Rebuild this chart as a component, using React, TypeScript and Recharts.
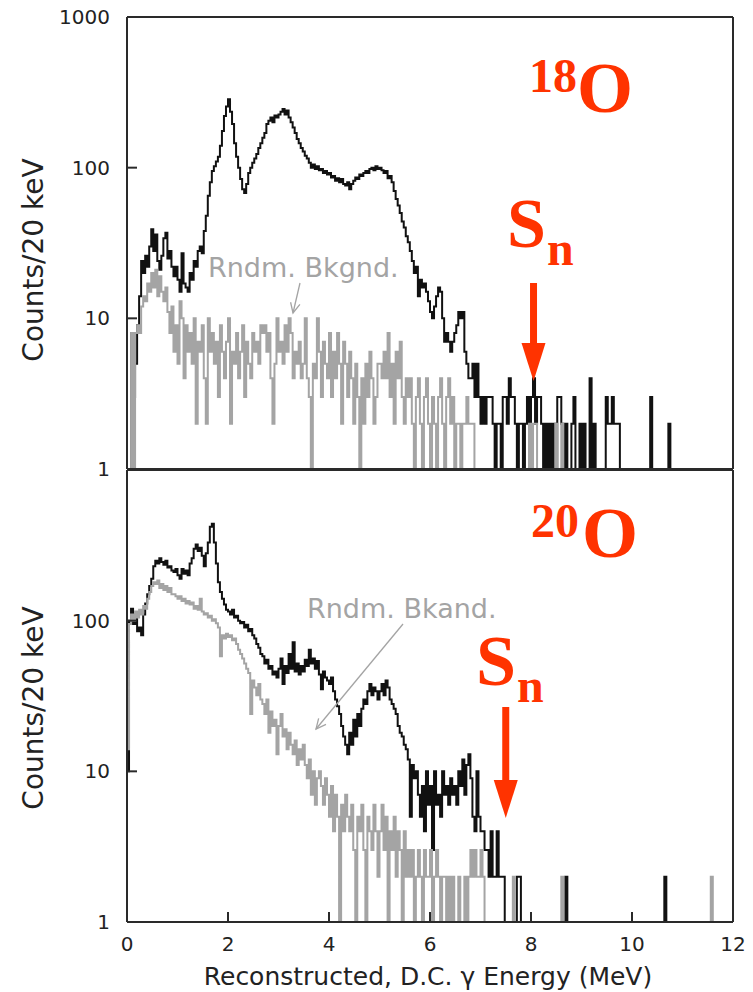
import { LineChart, Line, XAxis, YAxis } from "recharts"

// gamma spectra, counts per plotted bin (0.04 MeV wide)
const ENERGY_BIN = 0.04
const X_TICKS = [0, 2, 4, 6, 8, 10, 12]

// 18O, top panel, from 0 MeV upward
const O18_SIGNAL = [
  0, 0, 8, 3, 5, 9, 14, 24, 20, 26, 22, 30, 39, 28, 36, 24, 21, 26, 34, 37, 25, 28, 22, 19, 22,
  18, 15, 27, 17, 16, 15, 20, 18, 24, 22, 28, 30, 27, 38, 48, 65, 80, 95, 102, 110, 118, 140, 175, 220, 255,
  285, 235, 195, 145, 118, 100, 84, 72, 68, 78, 92, 100, 108, 115, 123, 135, 145, 158, 170, 195, 205, 215, 200, 222, 215,
  225, 235, 245, 225, 240, 215, 200, 185, 170, 155, 145, 135, 128, 120, 115, 108, 100, 105, 98, 102, 96, 98, 92, 95, 90,
  92, 86, 88, 82, 85, 80, 84, 78, 76, 80, 72, 78, 82, 86, 84, 90, 88, 92, 95, 92, 98, 100, 96, 102, 98,
  100, 96, 92, 95, 85, 88, 80, 70, 62, 56, 50, 44, 40, 35, 32, 28, 24, 20, 22, 14, 18, 16, 17, 15, 13,
  11, 10, 12, 14, 16, 15, 10, 7, 8, 7, 6, 7, 8, 9, 11, 10, 11, 6, 5, 4, 4, 5, 3, 5, 3,
  2, 3, 2, 3, 3, 3, 2, 0, 2, 2, 0, 3, 3, 2, 4, 3, 3, 2, 0, 2, 2, 0, 2, 3, 2,
  3, 4, 2, 3, 3, 2, 0, 2, 0, 2, 0, 2, 0, 3, 3, 2, 0, 2, 0, 0, 2, 3, 0, 0, 2,
  0, 2, 0, 0, 4, 0, 2, 0, 0, 0, 0, 0, 3, 2, 2, 3, 2, 2, 2, 0,
]
const O18_SIGNAL_TAIL = [[10.36, 3], [10.72, 2]]

const O18_RANDOM = [
  0, 0, 8, 0, 8, 9, 8, 12, 14, 13, 17, 15, 20, 16, 21, 14, 19, 15, 13, 16, 11, 8, 12, 6, 9,
  5, 13, 10, 4, 9, 6, 8, 5, 10, 2, 7, 6, 9, 4, 2, 10, 6, 8, 5, 7, 3, 9, 6, 4, 7,
  10, 2, 6, 5, 8, 4, 6, 9, 3, 7, 5, 4, 8, 6, 7, 5, 9, 8, 9, 6, 8, 4, 2, 5, 10,
  6, 7, 5, 9, 6, 10, 8, 4, 6, 5, 7, 4, 5, 10, 4, 3, 0, 5, 4, 10, 6, 3, 7, 5, 4,
  8, 3, 6, 4, 8, 5, 2, 7, 5, 3, 6, 4, 2, 5, 3, 0, 4, 2, 5, 3, 6, 4, 2, 3, 5,
  5, 4, 6, 4, 8, 3, 5, 2, 6, 4, 7, 3, 2, 4, 3, 4, 2, 0, 3, 4, 2, 0, 3, 4, 2,
  0, 3, 2, 0, 3, 4, 2, 0, 3, 4, 2, 3, 0, 2, 2, 0, 2, 2, 3, 2, 2, 2, 0, 0, 0,
]
const O18_RANDOM_TAIL = [[7.96, 2], [8.04, 2], [8.08, 2], [8.48, 2], [8.6, 2]]

// 20O, bottom panel
const O20_SIGNAL = [
  10, 100, 120, 95, 110, 85, 90, 80, 110, 130, 150, 170, 190, 230, 250, 240, 260, 245, 235, 250, 225, 230, 215, 210, 220,
  200, 190, 220, 205, 215, 200, 240, 260, 300, 320, 290, 305, 270, 230, 280, 330, 420, 440, 330, 240, 180, 155, 140, 128, 118,
  115, 110, 118, 105, 108, 100, 96, 98, 90, 94, 85, 88, 80, 76, 70, 66, 60, 58, 52, 55, 48, 50, 44, 46, 42,
  48, 56, 38, 50, 45, 60, 48, 72, 46, 52, 44, 50, 46, 55, 50, 64, 52, 56, 48, 54, 44, 35, 46, 42, 40,
  38, 42, 34, 30, 27, 24, 20, 17, 15, 13, 18, 15, 22, 17, 24, 20, 26, 30, 28, 34, 38, 32, 36, 34, 30,
  34, 38, 32, 40, 36, 30, 28, 26, 24, 20, 18, 17, 15, 14, 12, 5, 11, 9, 10, 7, 5, 8, 4, 10, 6,
  8, 3, 10, 6, 7, 5, 10, 7, 8, 6, 9, 7, 8, 6, 10, 8, 12, 7, 11, 13, 9, 5, 4, 10, 5,
  4, 4, 3, 3, 2, 4, 2, 2, 4, 2, 2, 2,
]
const O20_SIGNAL_TAIL = [[7.72, 2], [7.76, 2], [8.68, 2], [10.64, 2]]

const O20_RANDOM = [
  14, 95, 110, 100, 115, 105, 118, 110, 125, 120, 140, 155, 170, 180, 175, 185, 165, 175, 160, 170, 155, 165, 150, 150, 145,
  140, 145, 135, 140, 130, 135, 128, 132, 120, 125, 118, 140, 115, 110, 112, 105, 108, 100, 102, 96, 90, 58, 80, 76, 82,
  78, 80, 74, 76, 70, 64, 60, 56, 52, 48, 45, 24, 40, 36, 32, 38, 30, 28, 24, 30, 18, 25, 20, 22, 13,
  20, 24, 17, 19, 14, 18, 15, 13, 16, 11, 14, 12, 15, 11, 9, 12, 7, 10, 6, 9, 10, 8, 6, 9, 7,
  5, 8, 4, 7, 5, 0, 6, 4, 7, 5, 4, 6, 3, 0, 5, 4, 6, 3, 0, 5, 4, 3, 6, 4, 2,
  4, 6, 3, 5, 0, 4, 3, 5, 2, 4, 3, 0, 4, 2, 3, 2, 3, 0, 2, 3, 2, 0, 3, 2, 2,
  3, 0, 2, 3, 2, 0, 2, 2, 0, 2, 0, 2, 0, 0, 2, 0, 0, 2, 0, 2, 3, 2, 3, 2, 2,
  3, 2, 0,
]
const O20_RANDOM_TAIL = [[7.64, 2], [8.6, 2], [11.56, 2]]

// empty bins can't sit on a log axis; push them below the frame so the clip hides them
const FLOOR = 0.5

function buildRows(signal: number[], random: number[], signalTail: number[][], randomTail: number[][]) {
  const n = Math.round(12 / ENERGY_BIN)
  const rows = []
  for (let i = 0; i <= n; i++) {
    rows.push({ x: Math.round(i * ENERGY_BIN * 100) / 100, sig: signal[i] ?? 0, rnd: random[i] ?? 0 })
  }
  signalTail.forEach(([e, c]) => (rows[Math.round(e / ENERGY_BIN)].sig = c))
  randomTail.forEach(([e, c]) => (rows[Math.round(e / ENERGY_BIN)].rnd = c))
  return rows.map((r) => ({ x: r.x, sig: r.sig > 0 ? r.sig : FLOOR, rnd: r.rnd > 0 ? r.rnd : FLOOR }))
}

const topRows = buildRows(O18_SIGNAL, O18_RANDOM, O18_SIGNAL_TAIL, O18_RANDOM_TAIL)
const bottomRows = buildRows(O20_SIGNAL, O20_RANDOM, O20_SIGNAL_TAIL, O20_RANDOM_TAIL)

const W = 753
const PLOT_LEFT = 127
const PLOT_RIGHT = 733
const AXIS_BAND = 10 // room reserved for each axis, kept inside the margins below
const FRAME = "#2a2a2a"
const BLACK = "#111111"
const GRAY = "#a4a4a4"
const RED = "#ff3300"
const TICK_FONT = { fill: "#222", fontSize: 20, fontFamily: "DejaVu Sans" }

const px = (mev: number) => PLOT_LEFT + (mev / 12) * (PLOT_RIGHT - PLOT_LEFT)

interface PanelProps {
  rows: { x: number; sig: number; rnd: number }[]
  yTicks: number[]
  showXLabels: boolean
  height: number
  plotTop: number
  plotBottom: number
}

function Panel({ rows, yTicks, showXLabels, height, plotTop, plotBottom }: PanelProps) {
  const line = { stroke: FRAME, strokeWidth: 2 }
  const margin = {
    top: plotTop - AXIS_BAND,
    bottom: height - plotBottom - AXIS_BAND,
    left: PLOT_LEFT - AXIS_BAND,
    right: W - PLOT_RIGHT - AXIS_BAND,
  }
  return (
    <LineChart width={W} height={height} data={rows} margin={margin}>
      <XAxis
        dataKey="x"
        type="number"
        domain={[0, 12]}
        ticks={X_TICKS}
        interval={0}
        allowDataOverflow
        height={AXIS_BAND}
        tickSize={-10}
        tickMargin={25}
        tick={showXLabels ? TICK_FONT : false}
        axisLine={line}
        tickLine={line}
      />
      <XAxis
        xAxisId="top"
        orientation="top"
        dataKey="x"
        type="number"
        domain={[0, 12]}
        ticks={X_TICKS}
        interval={0}
        allowDataOverflow
        height={AXIS_BAND}
        tickSize={-10}
        tick={false}
        axisLine={line}
        tickLine={line}
      />
      <YAxis
        type="number"
        scale="log"
        domain={[1, 1000]}
        ticks={yTicks}
        interval={0}
        allowDataOverflow
        width={AXIS_BAND}
        tickSize={-10}
        tickMargin={27}
        tick={TICK_FONT}
        axisLine={line}
        tickLine={line}
      />
      <YAxis
        yAxisId="right"
        orientation="right"
        type="number"
        scale="log"
        domain={[1, 1000]}
        ticks={yTicks}
        interval={0}
        allowDataOverflow
        width={AXIS_BAND}
        tickSize={-10}
        tick={false}
        axisLine={line}
        tickLine={line}
      />
      <Line
        dataKey="sig"
        type="stepAfter"
        stroke={BLACK}
        strokeWidth={2}
        dot={false}
        isAnimationActive={false}
      />
      <Line
        dataKey="rnd"
        xAxisId="top"
        yAxisId="right"
        type="stepAfter"
        stroke={GRAY}
        strokeWidth={2}
        dot={false}
        isAnimationActive={false}
      />
    </LineChart>
  )
}

function GrayArrow({ x1, y1, x2, y2 }: { x1: number; y1: number; x2: number; y2: number }) {
  const a = Math.atan2(y2 - y1, x2 - x1)
  const len = 11
  const spread = 0.45
  const hx1 = x2 - len * Math.cos(a - spread)
  const hy1 = y2 - len * Math.sin(a - spread)
  const hx2 = x2 - len * Math.cos(a + spread)
  const hy2 = y2 - len * Math.sin(a + spread)
  return (
    <g stroke={GRAY} strokeWidth={1.3} fill="none">
      <line x1={x1} y1={y1} x2={x2} y2={y2} />
      <polyline points={`${hx1},${hy1} ${x2},${y2} ${hx2},${hy2}`} />
    </g>
  )
}

function RedArrow({ mev, top, tip }: { mev: number; top: number; tip: number }) {
  const x = px(mev)
  return (
    <g fill={RED}>
      <rect x={x - 3.5} y={top} width={7} height={tip - top - 36} />
      <polygon points={`${x - 12},${tip - 38} ${x + 12},${tip - 38} ${x},${tip}`} />
    </g>
  )
}

function Annotations() {
  const serif = { fontFamily: '"Liberation Serif", "Times New Roman", serif', fontWeight: 700, fill: RED }
  const sans = { fontFamily: "DejaVu Sans", fill: "#222" }
  return (
    <svg
      width={W}
      height={992}
      style={{ position: "absolute", left: 0, top: 0, pointerEvents: "none" }}
    >
      <text {...sans} fontSize={28} textAnchor="middle" transform="translate(43 260) rotate(-90)">
        Counts/20 keV
      </text>
      <text {...sans} fontSize={28} textAnchor="middle" transform="translate(43 708) rotate(-90)">
        Counts/20 keV
      </text>
      <text {...sans} fontSize={25} x={428} y={985} textAnchor="middle">
        Reconstructed, D.C. γ Energy (MeV)
      </text>

      <text x={208} y={277} fontFamily="DejaVu Sans" fontSize={27} fill={GRAY}>
        Rndm. Bkgnd.
      </text>
      <GrayArrow x1={300} y1={283} x2={293} y2={313} />
      <text x={307} y={618} fontFamily="DejaVu Sans" fontSize={27} fill={GRAY}>
        Rndm. Bkand.
      </text>
      <GrayArrow x1={403} y1={624} x2={316} y2={729} />

      <text {...serif} x={529} y={92} fontSize={48}>18</text>
      <text {...serif} x={577} y={112} fontSize={72}>O</text>
      <text {...serif} x={507} y={247} fontSize={70}>S</text>
      <text {...serif} x={547} y={265} fontSize={48}>n</text>
      <RedArrow mev={8.05} top={283} tip={381} />

      <text {...serif} x={531} y={537} fontSize={48}>20</text>
      <text {...serif} x={582} y={557} fontSize={72}>O</text>
      <text {...serif} x={476} y={685} fontSize={72}>S</text>
      <text {...serif} x={517} y={702} fontSize={48}>n</text>
      <RedArrow mev={7.5} top={707} tip={818} />
    </svg>
  )
}

export default function App() {
  return (
    <div style={{ position: "absolute", left: 0, top: 0, width: W, height: 992, background: "#fff" }}>
      <div style={{ position: "absolute", left: 0, top: 0 }}>
        <Panel
          rows={topRows}
          yTicks={[1, 10, 100, 1000]}
          showXLabels={false}
          height={490}
          plotTop={17}
          plotBottom={469}
        />
      </div>
      <div style={{ position: "absolute", left: 0, top: 460 }}>
        <Panel
          rows={bottomRows}
          yTicks={[1, 10, 100]}
          showXLabels
          height={532}
          plotTop={10}
          plotBottom={462}
        />
      </div>
      <Annotations />
    </div>
  )
}
